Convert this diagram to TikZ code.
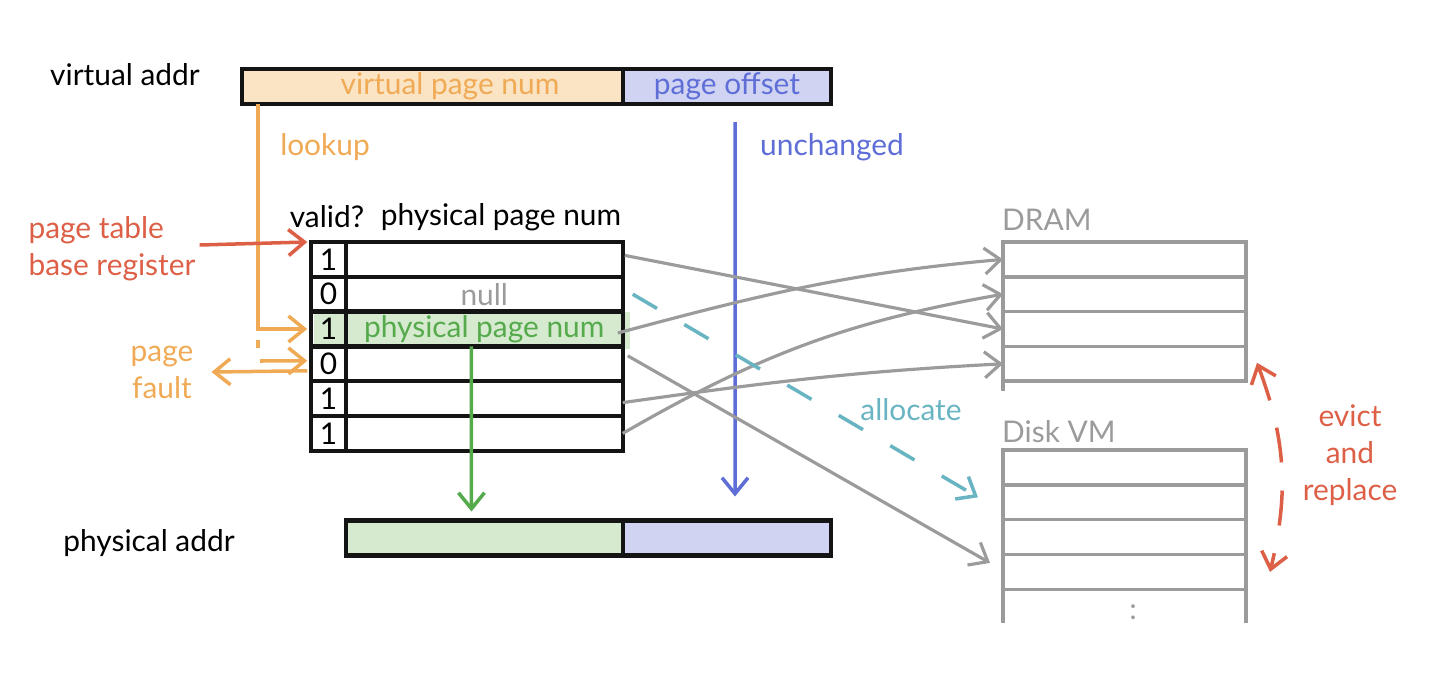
\documentclass[tikz,border=0pt]{standalone}
\usepackage{fontspec}
\setmainfont{Lato}
\usetikzlibrary{positioning,calc}
\usetikzlibrary{arrows.meta}
\definecolor{InkBlack}{RGB}{20,20,20}
\definecolor{SketchOrange}{RGB}{240,170,85}
\definecolor{SketchBlue}{RGB}{95,110,215}
\definecolor{SketchGreen}{RGB}{85,170,75}
\definecolor{SketchRed}{RGB}{220,95,70}
\definecolor{SketchTeal}{RGB}{105,180,195}
\definecolor{SketchGray}{RGB}{155,155,155}
\definecolor{OrangeWash}{RGB}{250,228,196}
\definecolor{BlueWash}{RGB}{208,212,242}
\definecolor{GreenWash}{RGB}{214,234,208}
\tikzset{
  hand/.style={font=\fontsize{8.5}{10.5}\selectfont,inner sep=1pt},
  cell/.style={draw=InkBlack,line width=1.2pt,minimum height=0.348cm,inner sep=0pt,outer sep=0pt,font=\fontsize{8.5}{10}\selectfont},
  bar/.style={draw=InkBlack,line width=1.2pt,minimum height=0.35cm,inner sep=0pt,outer sep=0pt,font=\fontsize{8.5}{10}\selectfont},
  slot/.style={draw=SketchGray,line width=1pt,minimum width=2.43cm,minimum height=0.348cm,inner sep=0pt,outer sep=0pt},
  tip/.style={-{Straight Barb[length=1.6mm,width=2.6mm]}},
  map/.style={tip,draw=SketchGray,line width=0.9pt},
  look/.style={tip,draw=SketchOrange,line width=1pt},
}
\tikzset{barbs/.style={{Straight Barb[length=1.6mm,width=2.6mm]}-{Straight Barb[length=1.6mm,width=2.6mm]}}}

\begin{document}
\begin{tikzpicture}[scale=1]
\useasboundingbox (0,0) rectangle (14.32,-6.84);
\node[bar,fill=OrangeWash,minimum width=3.81cm,text=SketchOrange] (vpn) at (4.325,-0.865) {\hspace{0.35cm}virtual page num};
\node[bar,fill=BlueWash,minimum width=2.08cm,text=SketchBlue,right=0pt of vpn] (off) {page offset};
\node[bar,fill=GreenWash,minimum width=2.77cm] (pbar) at (4.845,-5.38) {};
\node[bar,fill=BlueWash,minimum width=2.08cm,right=0pt of pbar] (pob) {};
\node[hand] (va) at (1.25,-0.75) {virtual addr};
\node[hand] (pa) at (1.49,-5.43) {physical addr};
\node[hand] (vh) at (3.27,-2.17) {valid?};
\node[hand] (ph) at (5.01,-2.17) {physical page num};
\node[hand,text=SketchOrange] (lu) at (3.25,-1.47) {lookup};
\node[hand,text=SketchBlue] (un) at (8.32,-1.47) {unchanged};
\node[hand,text=SketchTeal] (al) at (9.11,-4.10) {allocate};
\node[hand,text=SketchRed,align=left] (ptbr) at (1.12,-2.49) {page table\\base register};
\node[hand,text=SketchOrange,align=center] (pf) at (1.62,-3.72) {page\\fault};
\node[hand,text=SketchRed,align=center] (ev) at (13.5,-4.55) {evict\\and\\replace};
\fill[GreenWash] (3.14,-3.12) rectangle (6.30,-3.49);
\node[cell,minimum width=0.345cm] (v1) at (3.285,-2.594) {1};
\node[cell,minimum width=0.345cm,below=0pt of v1] (v2) {0};
\node[cell,minimum width=0.345cm,below=0pt of v2] (v3) {1};
\node[cell,minimum width=0.345cm,below=0pt of v3] (v4) {0};
\node[cell,minimum width=0.345cm,below=0pt of v4] (v5) {1};
\node[cell,minimum width=0.345cm,below=0pt of v5] (v6) {1};
\node[cell,minimum width=2.77cm,right=0pt of v1] (p1) {};
\node[cell,minimum width=2.77cm,right=0pt of v2,text=SketchGray] (p2) {null};
\node[cell,minimum width=2.77cm,right=0pt of v3,text=SketchGreen] (p3) {physical page num};
\node[cell,minimum width=2.77cm,right=0pt of v4] (p4) {};
\node[cell,minimum width=2.77cm,right=0pt of v5] (p5) {};
\node[cell,minimum width=2.77cm,right=0pt of v6] (p6) {};
\node[hand,text=SketchGray,anchor=west] (dram) at (9.98,-2.20) {DRAM};
\node[slot] (d1) at (11.245,-2.594) {};
\node[slot,below=0pt of d1] (d2) {};
\node[slot,below=0pt of d2] (d3) {};
\node[slot,below=0pt of d3] (d4) {};
\draw[SketchGray,line width=1pt] (d4.south west) -- ++(0,-0.1);
\node[hand,text=SketchGray,anchor=west] (disk) at (9.98,-4.32) {Disk VM};
\node[slot] (k1) at (11.245,-4.675) {};
\node[slot,below=0pt of k1] (k2) {};
\node[slot,below=0pt of k2] (k3) {};
\node[slot,below=0pt of k3] (k4) {};
\draw[SketchGray,line width=1pt] (k4.south west) -- ++(0,-0.34);
\draw[SketchGray,line width=1pt] (k4.south east) -- ++(0,-0.34);
\node[hand,text=SketchGray] (more) at (11.33,-6.12) {:};
\coordinate (lk) at ([xshift=0.16cm]vpn.south west);
\coordinate (pfa) at (2.60,-3.61);
\draw[look] (lk) |- ([xshift=-0.04cm]v3.west);
\draw[SketchOrange,line width=1pt] (2.58,-3.40) -- (2.58,-3.48);
\draw[look] (pfa) -- ([xshift=-0.04cm,yshift=0.03cm]v4.west);
\draw[look] ([xshift=-0.04cm,yshift=-0.07cm]v4.west) -- ([xshift=0.14cm]pf.east);
\draw[tip,draw=SketchRed,line width=1pt] ([yshift=0.04cm]ptbr.east) -- ([xshift=-0.04cm]v1.north west);
\coordinate (uc) at ([xshift=0.08cm,yshift=-0.18cm]off.south);
\draw[tip,draw=SketchBlue,line width=1pt] (uc) -- ([xshift=0.08cm,yshift=0.24cm]pob.north);
\draw[tip,draw=SketchGreen,line width=1pt] ([xshift=-0.13cm]p3.south) -- ([xshift=-0.13cm,yshift=0.09cm]pbar.north);
\draw[map] ([xshift=0.02cm,yshift=0.04cm]p1.east) -- (d3.west);
\draw[map] ([xshift=-0.05cm,yshift=-0.04cm]p3.east) to[out=15,in=185] (d1.west);
\draw[map] ([xshift=0.05cm,yshift=0.08cm]p4.east) -- ([xshift=-0.13cm,yshift=0.09cm]k4.west);
\draw[map] ([yshift=-0.04cm]p5.east) to[out=8,in=183] (d4.west);
\draw[map] (p6.east) to[out=30,in=190] (d2.west);
\draw[tip,draw=SketchTeal,line width=1pt,dash pattern=on 8pt off 9pt] ([xshift=0.1cm]p2.east) -- ([xshift=-0.25cm,yshift=0.05cm]k2.west);
\coordinate (ev1) at ([xshift=0.11cm,yshift=0.01cm]d4.east);
\coordinate (ev2) at ([xshift=0.24cm]k4.east);
\draw[barbs,draw=SketchRed,line width=1pt,dash pattern=on 10pt off 8pt] (ev1) to[bend left=17] (ev2);
\end{tikzpicture}
\end{document}
